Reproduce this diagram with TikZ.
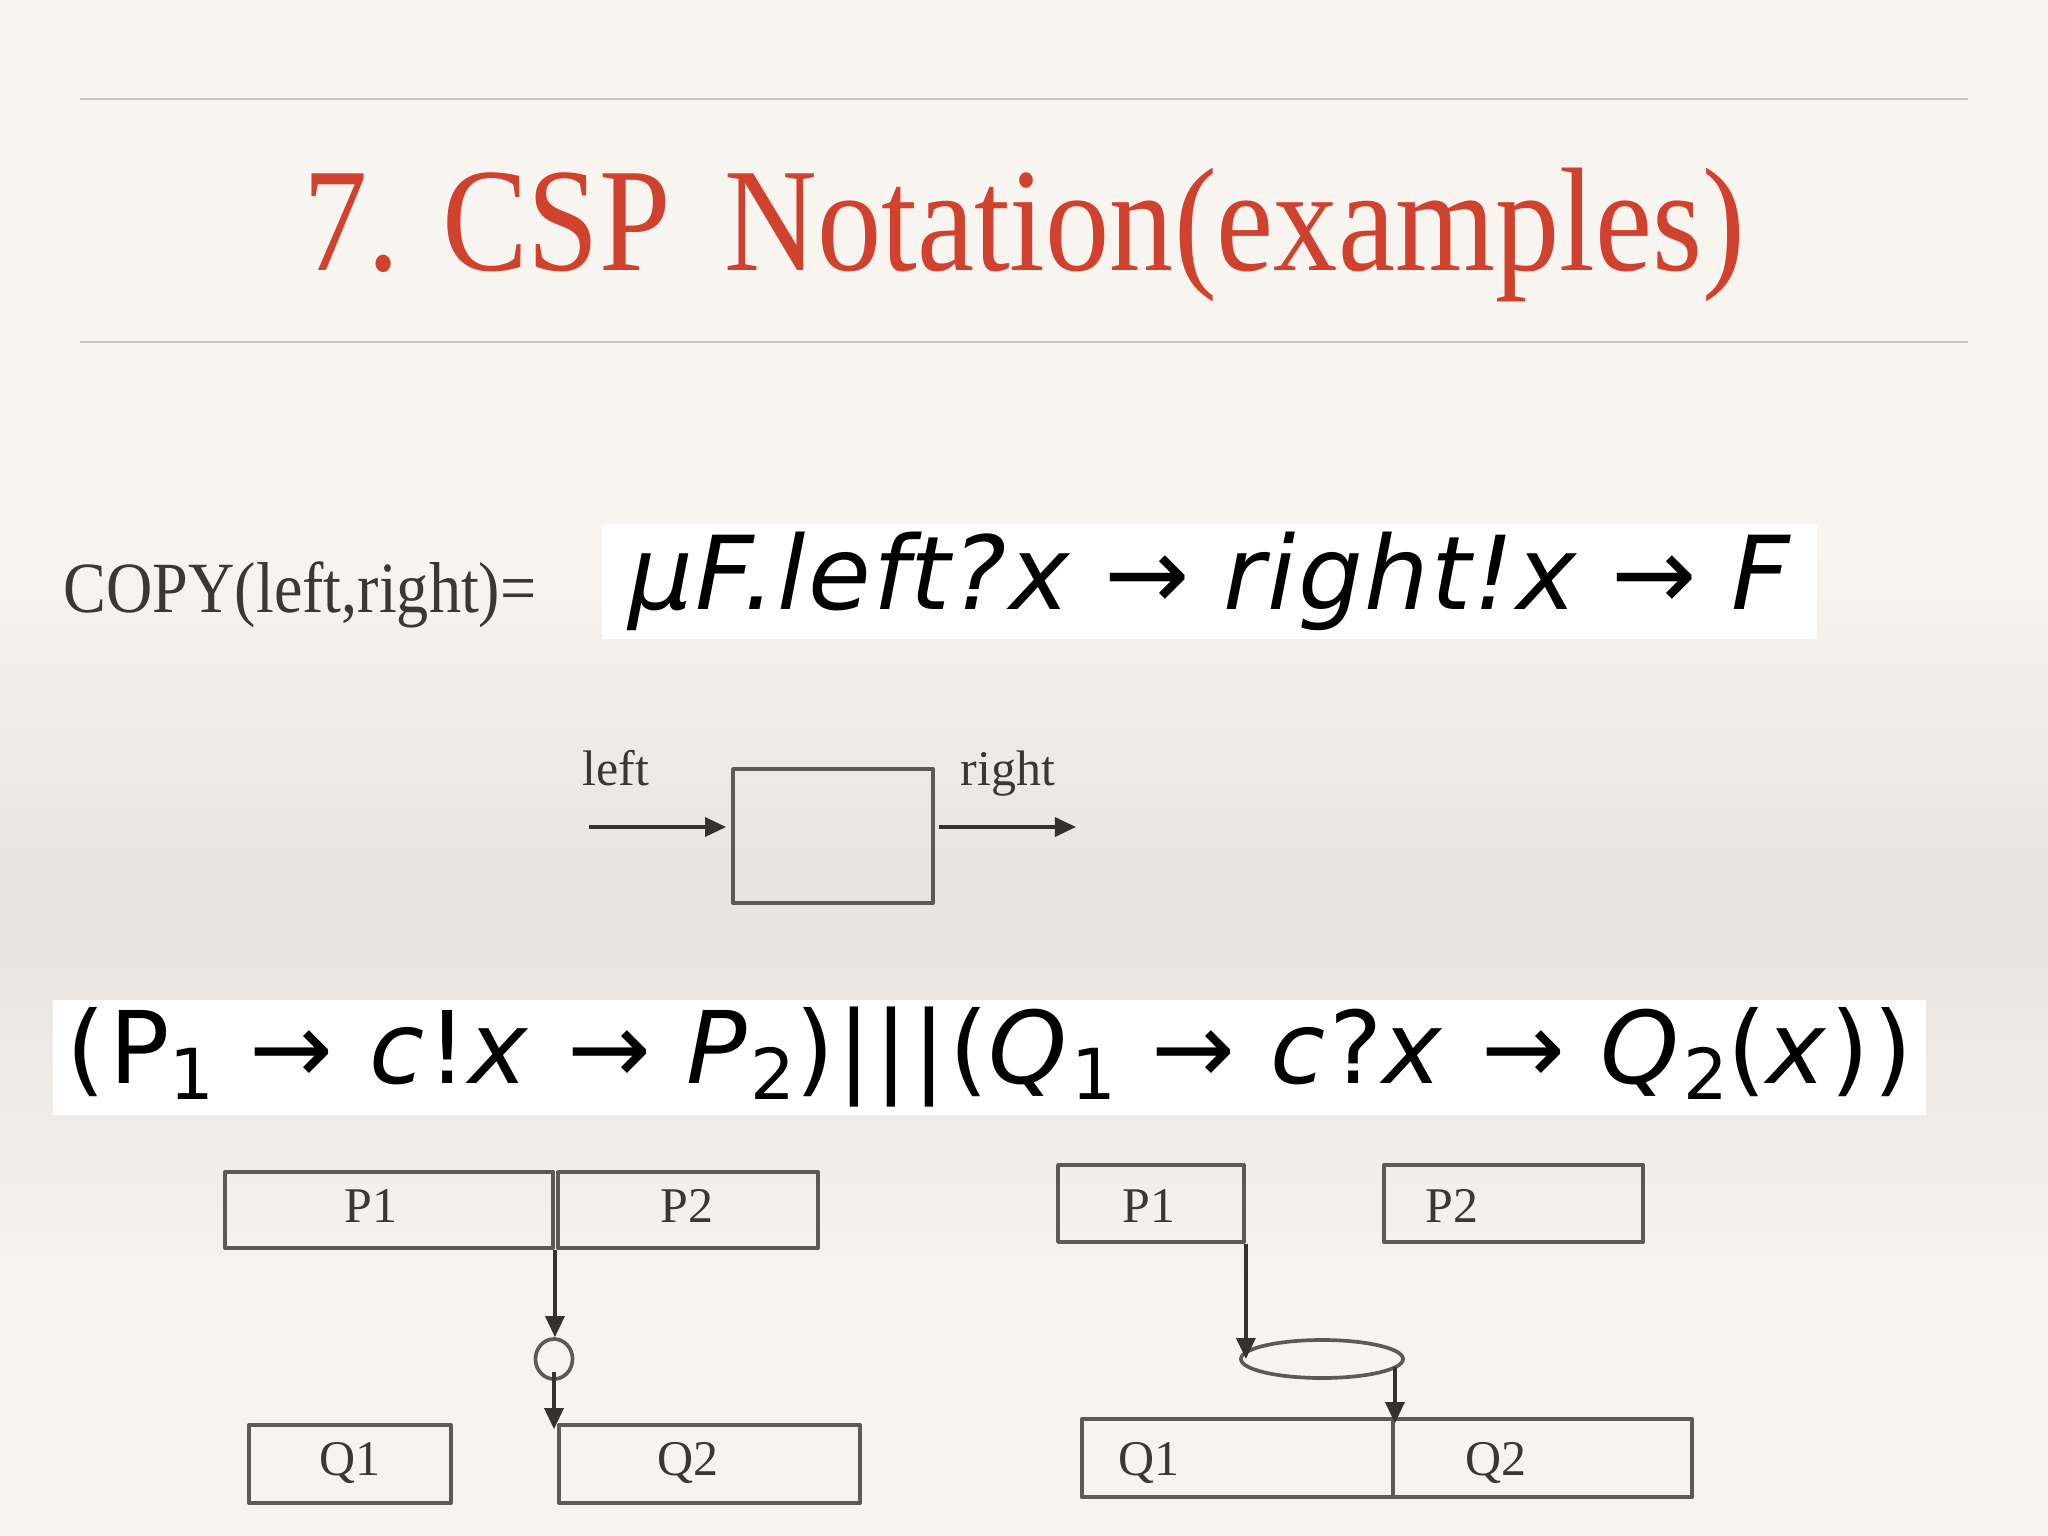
\documentclass[tikz,border=0pt]{standalone}
\usepackage{graphicx}
\usepackage{fontspec}
\setmainfont{Liberation Serif}
\newfontfamily\formfont[LetterSpace=3.5]{DejaVu Sans}
\newfontfamily\formfontsp[LetterSpace=2]{DejaVu Sans}
\usetikzlibrary{arrows.meta,shapes.geometric}
\definecolor{titlered}{RGB}{208,66,46}
\definecolor{boxgray}{RGB}{92,89,87}
\definecolor{arrowgray}{RGB}{52,50,49}
\definecolor{textgray}{RGB}{58,55,53}
\definecolor{rulegray}{RGB}{202,198,195}
\definecolor{bgtop}{RGB}{248,245,241}
\definecolor{bgmid}{RGB}{233,229,226}
\definecolor{bgbot}{RGB}{247,244,240}
\pgfdeclareverticalshading{slidebg}{100bp}{color(0bp)=(bgbot); color(25bp)=(bgbot); color(33bp)=(bgbot); color(44bp)=(bgmid); color(47bp)=(bgmid); color(57bp)=(bgtop); color(75bp)=(bgtop); color(100bp)=(bgtop)}
\newcommand\sub[1]{\raisebox{-0.15em}{\fontsize{20}{22}\selectfont #1}}
\begin{document}
\begin{tikzpicture}[x=0.01cm,y=-0.01cm,line join=round,
	>={Triangle[length=0.21cm,width=0.19cm]},
	box/.style={draw=boxgray,line width=1.05pt,inner sep=0pt},
	lab/.style={text=textgray,font=\fontsize{14.2}{16}\selectfont,inner sep=0pt,anchor=base},
	wire/.style={draw=arrowgray,line width=0.95pt,->},
	formula/.style={fill=white,inner sep=0pt}]
		\shade[shading=slidebg] (0,0) rectangle (2048,1536);
		\useasboundingbox (0,0) rectangle (2048,1536);
		
		% title between the two rules
		\draw[rulegray,line width=0.6pt] (80,99)--(1968,99);
		\draw[rulegray,line width=0.6pt] (80,342)--(1968,342);
		\node[text=titlered,font=\fontsize{42}{48}\selectfont,inner sep=0pt,anchor=base] (title) at (1024,270) {\scalebox{0.87}[1]{7. CSP\, Notation(examples)}};
		
		% COPY definition
		\node[text=textgray,font=\fontsize{20.5}{24}\selectfont,inner sep=0pt,anchor=base west] (copy) at (63,612) {\scalebox{0.89}[1]{COPY(left,right)=}};
		\node[formula,minimum width=12.15cm,minimum height=1.15cm] (mu) at (1209.5,581.5) {\formfontsp\fontsize{29}{32}\selectfont\itshape μF.left?x {\upshape →} right!x {\upshape →} F};
		
		% COPY process
		\node[box,minimum width=2cm,minimum height=1.34cm] (copybox) at (833,836) {};
		\coordinate (lin) at (589,827);
		\coordinate (rout) at (1076,827);
		\draw[wire,shorten >=0.05cm] (lin)--(lin -| copybox.west);
		\draw[wire,shorten <=0.04cm] (rout -| copybox.east)--(rout);
		\node[lab] (leftlab) at (616,785) {left};
		\node[lab] (rightlab) at (1008,785) {right};
		
		% interleaving
		\node[formula,minimum width=18.71cm,minimum height=1.15cm] (par) at (989.5,1057.5) {\formfont\fontsize{28.5}{32}\selectfont (P\sub{1} → \textit{c}!\textit{x} → \textit{P}\sub{2})|||(\textit{Q}\sub{1} → \textit{c}?\textit{x} → \textit{Q}\sub{2}(\textit{x}))};
		
		% left picture
		\node[box,minimum width=3.28cm,minimum height=0.76cm] (P1a) at (389,1210) {};
		\node[box,minimum width=2.6cm,minimum height=0.76cm] (P2a) at (688,1210) {};
		\node[box,minimum width=2.02cm,minimum height=0.78cm] (Q1a) at (350,1464) {};
		\node[box,minimum width=3.01cm,minimum height=0.78cm] (Q2a) at (709.5,1464) {};
		\node[box,ellipse,minimum width=0.37cm,minimum height=0.4cm] (syncA) at (554,1359) {};
		\node[lab] (tP1a) at (371,1222) {P1};
		\node[lab] (tP2a) at (687,1222) {P2};
		\node[lab] (tQ1a) at (350,1475) {Q1};
		\node[lab] (tQ2a) at (688,1475) {Q2};
		\draw[wire] (P1a.south east)--(P1a.south east |- syncA.north);
		\draw[wire] ([yshift=-0.13cm]syncA.center)--([yshift=-0.06cm]syncA.center |- Q2a.north);
		
		% right picture
		\node[box,minimum width=1.86cm,minimum height=0.77cm] (P1b) at (1151,1203.5) {};
		\node[box,minimum width=2.59cm,minimum height=0.77cm] (P2b) at (1513.5,1203.5) {};
		\node[box,minimum width=3.11cm,minimum height=0.78cm] (Q1b) at (1237.5,1458) {};
		\node[box,minimum width=2.99cm,minimum height=0.78cm] (Q2b) at (1542.5,1458) {};
		\node[box,ellipse,minimum width=1.62cm,minimum height=0.38cm] (syncB) at (1322,1359) {};
		\node[lab] (tP1b) at (1149,1222) {P1};
		\node[lab] (tP2b) at (1452,1222) {P2};
		\node[lab] (tQ1b) at (1149,1475) {Q1};
		\node[lab] (tQ2b) at (1496,1475) {Q2};
		\draw[wire] (P1b.south east)--(P1b.south east |- syncB.center);
		\path (Q1b.north east |- syncB.center) coordinate (sB);
		\draw[wire] ([yshift=-0.08cm]sB)--([yshift=-0.06cm]Q1b.north east);
\end{tikzpicture}
\end{document}
